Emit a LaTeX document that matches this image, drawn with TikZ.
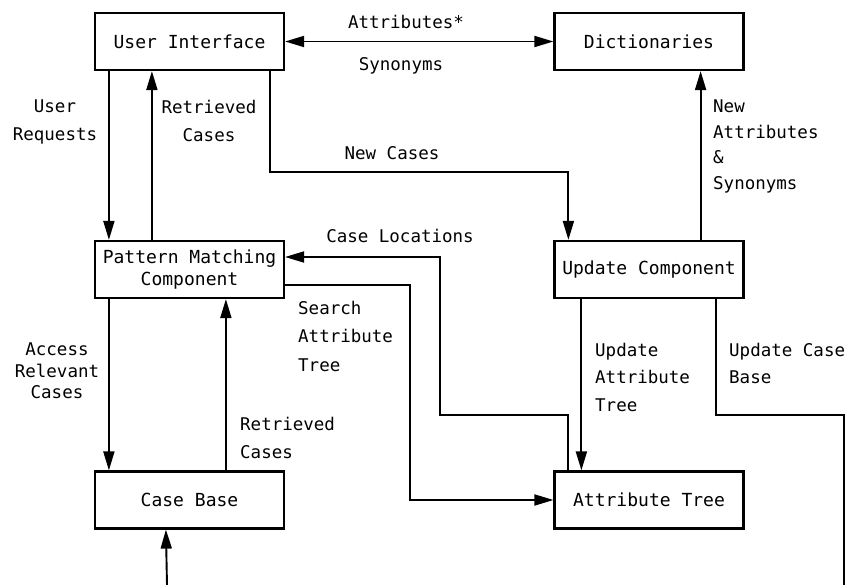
\documentclass[tikz,border=0pt]{standalone}
\usepackage{fontspec}
\setmainfont{DejaVu Sans Mono}
\usetikzlibrary{arrows.meta}
\newcommand{\dfont}[1]{\fontsize{17.5pt}{#1}\selectfont}
\newcommand{\bfontx}[1]{\fontsize{18pt}{#1}\selectfont}
\begin{document}
\begin{tikzpicture}[x=1pt,y=-1pt,
  box/.style={draw,line width=2.2pt,minimum width=189pt,minimum height=57pt,inner sep=0pt,font=\bfontx{22pt},align=center},
  lbl/.style={inner sep=0pt,anchor=north},
  lblw/.style={inner sep=0pt,anchor=north west,align=left},
  conn/.style={line width=1.9pt,-{Triangle[length=19pt,width=11pt]}},
  conn2/.style={line width=1.9pt,{Triangle[length=19pt,width=11pt]}-{Triangle[length=19pt,width=11pt]}},
  plain/.style={line width=1.9pt}
]
\useasboundingbox (0,0) rectangle (849,585);

% boxes
\node[box] (UI) at (189.5,41.5) {User Interface};
\node[box] (DI) at (649,41.5) {Dictionaries};
\node[box] (PM) at (189.5,269.5) {Pattern Matching\\Component};
\node[box] (UP) at (649,269.5) {Update Component};
\node[box] (CB) at (189.5,500) {Case Base};
\node[box] (AT) at (649,500) {Attribute Tree};

\coordinate (cbIn) at (167,585);
\coordinate (ucbEnd) at (844,585);

% connectors
\draw[conn2] (UI.east) -- (DI.west);
\draw[conn] ([xshift=15pt]UI.south west) -- ([xshift=15pt]PM.north west);
\draw[conn] ([xshift=58pt]PM.north west) -- ([xshift=58pt]UI.south west);
\draw[conn] ([xshift=-15pt]UI.south east) -- ++(0,101) -| ([xshift=15pt]UP.north west);
\draw[conn] ([xshift=-44pt]UP.north east) -- ([xshift=-44pt]DI.south east);
\draw[conn] ([xshift=15pt]AT.north west) |- (440,415) |- ([yshift=12.5pt]PM.east);
\draw[conn] ([yshift=-15.5pt]PM.east) -| ([xshift=-143pt]AT.west) -- (AT.west);
\draw[conn] ([xshift=28pt]UP.south west) -- ([xshift=28pt]AT.north west);
\draw[plain] ([xshift=-29pt]UP.south east) |- (844,415) -- (ucbEnd);
\draw[conn] ([xshift=15pt]PM.south west) -- ([xshift=15pt]CB.north west);
\draw[conn] ([xshift=132pt]CB.north west) -- ([xshift=132pt]PM.south west);
\draw[conn] (cbIn) -- ([xshift=72pt]CB.south west);

% labels
\node[lbl,font=\dfont{28pt}] (lAttr) at (406,15) {Attributes*};
\node[lbl,font=\dfont{28pt}] (lSyn) at (401,57) {Synonyms};
\node[lbl,align=center,font=\dfont{28pt}] (lUR) at (55,100) {User\\Requests};
\node[lbl,align=center,font=\dfont{28pt}] (lRC1) at (209,100) {Retrieved\\Cases};
\node[lbl,font=\dfont{28pt}] (lNC) at (392,146) {New Cases};
\node[lblw,font=\dfont{25.5pt}] (lNA) at (713,100) {New\\Attributes\\\&\\Synonyms};
\node[lbl,font=\dfont{28pt}] (lCL) at (400,229) {Case Locations};
\node[lblw,font=\dfont{28.5pt}] (lSAT) at (298,301) {Search\\Attribute\\Tree};
\node[lbl,align=center,font=\dfont{21.5pt}] (lARC) at (57,343) {Access\\Relevant\\Cases};
\node[lblw,font=\dfont{28pt}] (lRC2) at (240,417) {Retrieved\\Cases};
\node[lblw,font=\dfont{27.5pt}] (lUAT) at (595,343) {Update\\Attribute\\Tree};
\node[lblw,font=\dfont{27pt}] (lUCB) at (729,343) {Update Case\\Base};
\end{tikzpicture}
\end{document}
